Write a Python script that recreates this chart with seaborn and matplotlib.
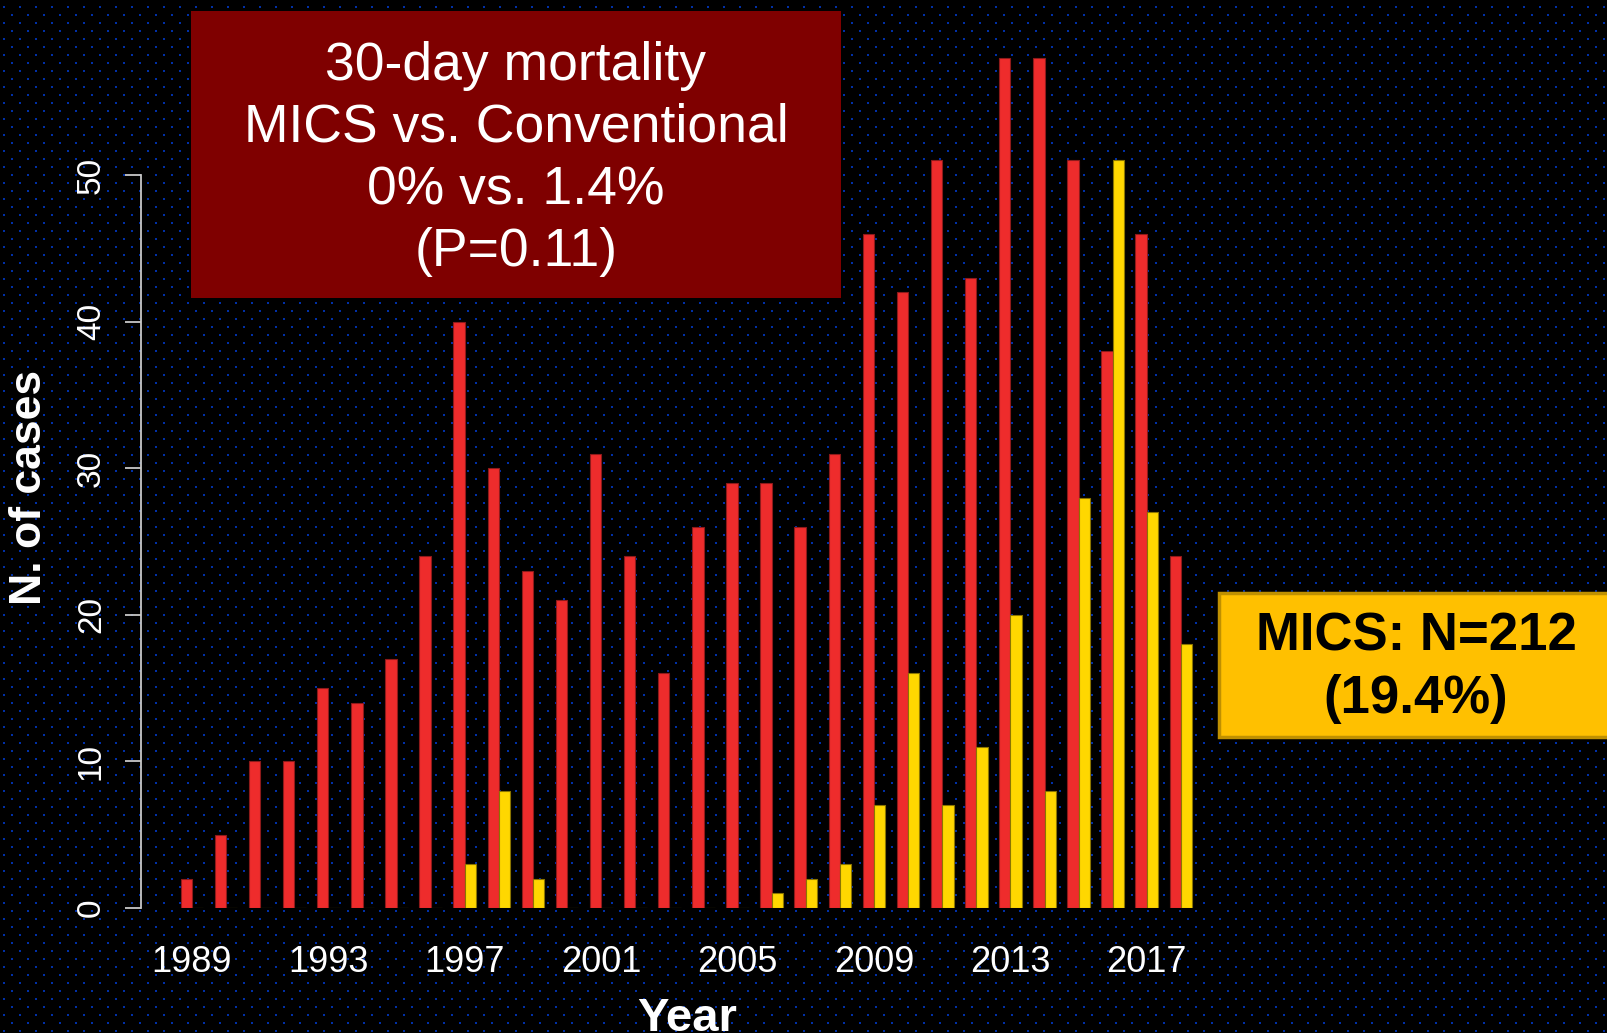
import numpy as np
import pandas as pd
import matplotlib
matplotlib.use("Agg")
import matplotlib.pyplot as plt
from matplotlib.patches import Rectangle
import seaborn as sns

# ---------------- data ----------------
years = list(range(1989, 2019))
conventional = [2, 5, 10, 10, 15, 14, 17, 24, 40, 30,
                23, 21, 31, 24, 16, 26, 29, 29, 26, 31,
                46, 42, 51, 43, 58, 58, 51, 38, 46, 24]
mics = [0, 0, 0, 0, 0, 0, 0, 0, 3, 8,
        2, 0, 0, 0, 0, 0, 0, 1, 2, 3,
        7, 16, 7, 11, 20, 8, 28, 51, 27, 18]
series_names = ["Conventional", "MICS"]
xtick_years = years[::4]
ytick_values = [0, 10, 20, 30, 40, 50]
box1_text = "30-day mortality\nMICS vs. Conventional\n0% vs. 1.4%\n(P=0.11)"
box2_text = "MICS: N=212\n(19.4%)"

df = pd.DataFrame({
    "Year": years * 2,
    "Cases": conventional + mics,
    "Group": [series_names[0]] * len(years) + [series_names[1]] * len(years),
})

# ---------------- figure ----------------
W, H = 1608, 1033
DPI = 100
sns.set_theme(style="white")
plt.rcParams["font.family"] = ["Liberation Sans", "DejaVu Sans"]

fig = plt.figure(figsize=(W / DPI, H / DPI), dpi=DPI, facecolor="black")

# dotted dark background
bg = np.zeros((H, W, 3), dtype=float)
dot = np.array([0, 48, 168]) / 255.0
for r in range(6, H, 8):
    off = 3 if (r // 8) % 2 == 0 else 11
    for c in range(off, W, 16):
        bg[r:r + 2, c:c + 2] = dot
fig.figimage(bg, xo=0, yo=0, origin="upper", zorder=-5)

# axes placement (pixels -> figure fraction)
ax_left, ax_right = 141, 1231
ax_bottom, ax_top = 908, 30
px_per_unit = 14.66
ax = fig.add_axes([ax_left / W, (H - ax_bottom) / H,
                   (ax_right - ax_left) / W, (ax_bottom - ax_top) / H])
ax.set_facecolor("none")

palette = {series_names[0]: "#EE2C2C", series_names[1]: "#FFD700"}
sns.barplot(data=df, x="Year", y="Cases", hue="Group", hue_order=series_names,
            palette=palette, width=2 / 3, dodge=True, errorbar=None,
            saturation=1, legend=False, ax=ax)

edge_cols = ["#8E1A1A", "#8B7500"]
for cont, ec in zip(ax.containers, edge_cols):
    for p in cont:
        p.set_edgecolor(ec)
        p.set_linewidth(0.8)

# axis limits
group0_px, group_step = 192, 34.1
ax.set_xlim((ax_left - group0_px) / group_step, (ax_right - group0_px) / group_step)
ax.set_ylim(0, (ax_bottom - ax_top) / px_per_unit)

# spines / ticks
for s in ["top", "right", "bottom"]:
    ax.spines[s].set_visible(False)
ax.spines["left"].set_visible(True)
ax.spines["left"].set_color("#C8C8C8")
ax.spines["left"].set_linewidth(1.3)
ax.spines["left"].set_bounds(0, 50)

ax.set_yticks(ytick_values)
ax.set_yticklabels([str(v) for v in ytick_values], rotation=90, va="center")
ax.tick_params(axis="y", which="both", left=True, length=11.5, width=1.3,
               color="#C8C8C8", labelcolor="white", labelsize=24, pad=13)

ax.set_xticks([years.index(y) for y in xtick_years])
ax.set_xticklabels([str(y) for y in xtick_years])
ax.tick_params(axis="x", length=0, labelcolor="white", labelsize=26, pad=27)
ax.grid(False)
ax.set_xlabel("")
ax.set_ylabel("")

# axis titles
fig.text(687 / W, (H - 1031) / H, "Year", color="white", fontsize=34,
         fontweight="bold", ha="center", va="baseline")
fig.text(29.5 / W, 1 - 487 / H, "N. of cases", color="white", fontsize=32,
         fontweight="bold", ha="center", va="center", rotation=90)

# annotation box 1 (dark red)
b1 = Rectangle((191 / W, 1 - 298 / H), (841 - 191) / W, (298 - 11) / H,
               transform=fig.transFigure, facecolor="#7F0000", edgecolor="none",
               zorder=5)
fig.patches.append(b1)
fig.text(516 / W, 1 - 159 / H, box1_text, color="white", fontsize=38.5,
         ha="center", va="center", multialignment="center", linespacing=1.31,
         zorder=6)

# annotation box 2 (gold)
b2 = Rectangle((1219 / W, 1 - 737 / H), (1640 - 1219) / W, (737 - 593) / H,
               transform=fig.transFigure, facecolor="#FFC000", edgecolor="#BF9000",
               linewidth=2.5, zorder=5)
fig.patches.append(b2)
fig.text(1416 / W, 1 - 668 / H, box2_text, color="black", fontsize=38,
         fontweight="bold", ha="center", va="center", multialignment="center",
         linespacing=1.31, zorder=6)

fig.savefig("out.png", dpi=DPI, facecolor="black")
